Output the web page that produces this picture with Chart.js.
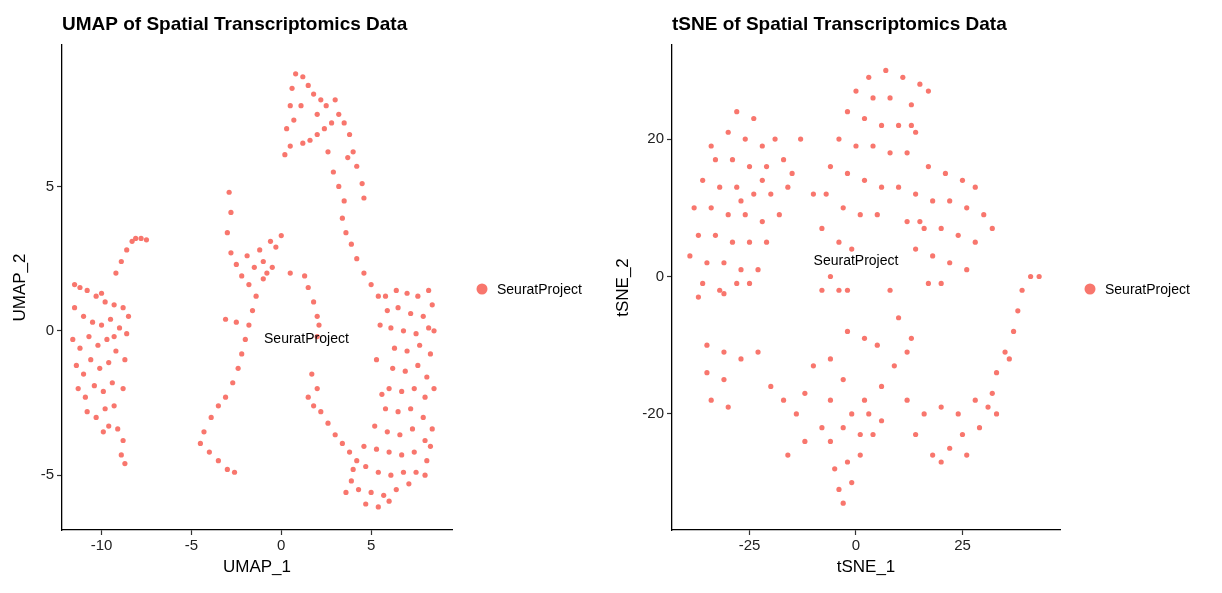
<!DOCTYPE html>
<html>
<head>
<meta charset="utf-8">
<script src="https://cdn.jsdelivr.net/npm/chart.js@4"></script>
<style>
  body { margin: 0; background: #fff; }
  .wrap { position: absolute; top: 0; width: 611px; height: 593px; }
</style>
</head>
<body>
<div class="wrap" style="left:0"><canvas id="umap"></canvas></div>
<div class="wrap" style="left:611px"><canvas id="tsne"></canvas></div>
<script>
const groupName = "SeuratProject";
const pointColor = "#F8766D";

const umapPoints = [
  [-11.2,1.5],[-10.8,1.4],[-10.3,1.2],[-9.8,1.0],[-9.3,0.9],[-8.8,0.8],[-8.5,0.5],[-11.5,0.8],[-11.0,0.5],[-10.5,0.3],[-10,0.2],[-9.5,0.4],[-9,0.1],[-8.6,-0.1],[-11.6,-0.3],[-11.2,-0.6],[-10.7,-0.2],[-10.2,-0.5],[-9.7,-0.3],[-9.2,-0.7],[-11.4,-1.2],[-11,-1.5],[-10.6,-1.0],[-10.1,-1.3],[-9.6,-1.1],[-11.3,-2.0],[-10.9,-2.3],[-10.4,-1.9],[-9.9,-2.1],[-9.4,-1.8],[-10.8,-2.8],[-10.3,-3.0],[-9.8,-2.7],[-9.3,-2.6],[-9.6,-3.3],[-9.1,-3.4],[-8.8,-3.8],[-8.9,-4.3],[-8.7,-4.6],[-9.9,-3.5],[-8.8,-2.0],[-8.7,-1.0],[-9.3,-0.2],[-11.5,1.6],[-10,1.3],[-9.2,2.0],[-8.9,2.4],[-8.6,2.8],[-8.3,3.1],[-7.8,3.2],[-7.5,3.15],[-8.1,3.2],
  [-2.6,-4.9],[-3.0,-4.8],[-3.5,-4.5],[-4.0,-4.2],[-4.5,-3.9],[-4.3,-3.5],[-3.9,-3.0],[-3.5,-2.6],[-3.1,-2.3],[-2.7,-1.8],[-2.4,-1.3],[-2.2,-0.8],[-2.0,-0.3],[-1.8,0.2],[-2.5,0.3],[-3.1,0.4],[-1.6,0.7],[-1.4,1.2],[-1.8,1.6],[-2.2,1.9],[-1.5,2.2],[-1.0,2.4],[-0.5,2.2],[-1.9,2.6],[-1.2,2.8],[-0.8,2.0],[-0.3,2.9],[0,3.3],[-0.6,3.1],[-2.5,2.3],[-2.8,2.7],[-3.0,3.4],[-2.8,4.1],[-2.9,4.8],[0.5,2.0],[-1.0,1.8],
  [1.5,1.5],[1.8,1.0],[2.0,0.5],[2.1,0.2],[2.0,-0.2],[1.3,1.9],
  [1.5,-2.3],[1.8,-2.6],[2.0,-2.0],[1.7,-1.5],[2.2,-2.8],[2.6,-3.2],[3.0,-3.6],[3.4,-3.9],[3.8,-4.2],[4.2,-4.5],
  [0.8,8.9],[1.2,8.8],[0.6,8.4],[0.5,7.8],[0.7,7.3],[0.3,7.0],[0.5,6.4],[0.2,6.1],[1.5,8.5],[1.8,8.2],[2.2,8.0],[2.5,7.8],[3.0,8.0],[3.2,7.5],[2.8,7.2],[2.4,7.0],[2.0,6.8],[1.6,6.6],[1.2,6.5],[3.5,7.2],[3.8,6.8],[4.0,6.2],[4.2,5.7],[4.5,5.1],[4.6,4.6],[3.7,6.0],[2.6,6.2],[2.9,5.5],[3.2,5.0],[3.5,4.5],[3.4,3.9],[3.6,3.4],[3.9,3.0],[4.2,2.5],[4.6,2.0],[5.0,1.6],[5.4,1.2],[1.1,7.8],[2.0,7.5],
  [5.8,1.2],[6.4,1.4],[7.0,1.3],[7.6,1.2],[8.2,1.4],[8.4,0.9],[5.9,0.7],[6.5,0.8],[7.2,0.6],[7.9,0.5],[6.1,0.1],[6.8,0.0],[7.5,-0.1],[8.2,0.1],[6.3,-0.6],[7.0,-0.7],[7.7,-0.5],[8.3,-0.8],[6.2,-1.3],[6.9,-1.4],[7.6,-1.2],[8.1,-1.6],[6.0,-2.0],[6.7,-2.1],[7.4,-2.0],[8.0,-2.3],[5.8,-2.7],[6.5,-2.8],[7.2,-2.7],[7.9,-3.0],[8.4,-3.4],[5.2,-3.3],[5.9,-3.5],[6.6,-3.6],[7.3,-3.4],[8.0,-3.8],[4.6,-4.0],[5.3,-4.1],[6.0,-4.2],[6.7,-4.3],[7.4,-4.2],[8.1,-4.5],[8.3,-4.0],[4.0,-4.8],[4.7,-4.7],[5.4,-4.9],[6.1,-5.0],[6.8,-4.9],[7.5,-4.9],[8.0,-5.0],[3.6,-5.6],[4.3,-5.5],[5.0,-5.6],[5.7,-5.7],[6.4,-5.5],[7.1,-5.3],[4.7,-6.0],[5.4,-6.1],[6.0,-5.9],[3.9,-5.2],[8.5,-2.0],[8.5,0.0],[5.5,0.2],[5.3,-1.0],[5.6,-2.2]
];

const tsnePoints = [
  [-28,24],[-24,23],[-30,21],[-26,20],[-22,19],[-33,17],[-29,17],[-25,16],[-21,16],[-17,17],[-36,14],[-32,13],[-28,13],[-24,12],[-20,12],[-16,13],[-38,10],[-34,10],[-30,9],[-26,9],[-22,8],[-18,9],[-37,6],[-33,6],[-29,5],[-25,5],[-21,5],[-39,3],[-35,2],[-31,2],[-27,1],[-23,1],[-36,-1],[-32,-2],[-28,-1],[-37,-3],[-13,20],[-15,15],[-19,20],[-34,19],[-27,11],[-22,14],[-31,-2.5],[-25,-1],
  [3,29],[7,30],[11,29],[15,28],[0,27],[4,26],[8,26],[13,25],[-2,24],[2,23],[6,22],[10,22],[14,21],[-4,20],[0,19],[4,19],[8,18],[12,18],[17,16],[21,15],[25,14],[28,13],[-6,16],[-2,15],[2,14],[6,13],[10,13],[14,12],[18,11],[22,11],[26,10],[30,9],[32,7],[-7,12],[-3,10],[1,9],[5,9],[12,8],[16,7],[20,7],[24,6],[28,5],[-8,7],[-4,5],[-1,4],[14,4],[18,3],[22,2],[26,1],[20,-1],[17,-1],[-6,0],[-4,-2],[-8,-2],[17,27],[13,22],[-10,12],[15,8],
  [-35,-10],[-31,-11],[-27,-12],[-23,-11],[-35,-14],[-31,-15],[-34,-18],[-30,-19],[-20,-16],[-17,-18],[-14,-20],[-12,-17],[-16,-26],[-12,-24],[-8,-22],[-10,-13],[-6,-12],[-2,-8],[2,-9],[-6,-18],[-3,-15],[-1,-20],[2,-18],[6,-16],[9,-13],[12,-11],[5,-10],[10,-6],[8,-2],[-2,-2],[13,-9],
  [-6,-24],[-3,-22],[1,-23],[4,-23],[-5,-28],[-2,-27],[1,-26],[-4,-31],[-1,-30],[-3,-33],[3,-20],[6,-21],
  [12,-18],[16,-20],[20,-19],[24,-20],[28,-18],[32,-17],[18,-26],[22,-25],[25,-23],[29,-22],[33,-20],[14,-23],[33,-14],[35,-11],[37,-8],[38,-5],[39,-2],[41,0],[43,0],[36,-12],[31,-19],[26,-26],[20,-27]
];

const umapTicksX = [-10, -5, 0, 5];
const umapTicksY = [-5, 0, 5];
const tsneTicksX = [-25, 0, 25];
const tsneTicksY = [-20, 0, 20];

// label positions
const umapLabelAt = [1.4, -0.3];
const tsneLabelAt = [0, 2.3];

const overlay = {
  id: "overlay",
  afterDraw(chart, args, opts) {
    const ctx = chart.ctx, a = chart.chartArea;
    ctx.save();
    ctx.fillStyle = "#000";
    ctx.font = "bold 19px 'Liberation Sans', Arial, sans-serif";
    ctx.textBaseline = "middle";
    ctx.fillText(opts.title, a.left, 25);
    ctx.font = "14px 'Liberation Sans', Arial, sans-serif";
    ctx.textAlign = "center";
    ctx.fillText(groupName, chart.scales.x.getPixelForValue(opts.label[0]), chart.scales.y.getPixelForValue(opts.label[1]));
    ctx.textAlign = "left";
    ctx.beginPath();
    ctx.fillStyle = pointColor;
    ctx.arc(a.right + 30, 289, 5.5, 0, Math.PI * 2);
    ctx.fill();
    ctx.fillStyle = "#000";
    ctx.fillText(groupName, a.right + 45, 290);
    ctx.restore();
  }
};

function makeChart(id, points, title, xTitle, yTitle, xr, yr, xt, yt, pad, yWidth, label) {
  const tickFont = { family: "'Liberation Sans', Arial, sans-serif", size: 15 };
  const titleFont = { family: "'Liberation Sans', Arial, sans-serif", size: 17 };
  const grid = { display: true, drawOnChartArea: false, drawTicks: true, tickLength: 5, tickColor: "#333", tickWidth: 1.2 };
  return new Chart(document.getElementById(id), {
    type: "scatter",
    data: { datasets: [{
      data: points.map(p => ({ x: p[0], y: p[1] })),
      backgroundColor: pointColor, borderWidth: 0, pointRadius: 2.6
    }] },
    options: {
      responsive: true, maintainAspectRatio: false, animation: false,
      layout: { padding: pad },
      plugins: { legend: { display: false }, tooltip: { enabled: false }, overlay: { title, label } },
      scales: {
        x: {
          min: xr[0], max: xr[1],
          afterBuildTicks: s => { s.ticks = xt.map(v => ({ value: v })); },
          afterFit: s => { s.height = 48; },
          grid,
          border: { color: "#000", width: 1.3 },
          ticks: { color: "#222", font: tickFont, padding: 2 },
          title: { display: true, text: xTitle, color: "#000", font: titleFont, padding: 0 }
        },
        y: {
          min: yr[0], max: yr[1],
          afterBuildTicks: s => { s.ticks = yt.map(v => ({ value: v })); },
          afterFit: s => { s.width = yWidth; },
          grid,
          border: { color: "#000", width: 1.3 },
          ticks: { color: "#222", font: tickFont, padding: 3 },
          title: { display: true, text: yTitle, color: "#000", font: titleFont, padding: 0 }
        }
      }
    },
    plugins: [overlay]
  });
}

makeChart("umap", umapPoints, "UMAP of Spatial Transcriptomics Data", "UMAP_1", "UMAP_2",
  [-12.2, 9.5], [-6.9, 9.9], umapTicksX, umapTicksY, { left: 10, right: 159, top: 45, bottom: 15 }, 52, umapLabelAt);
makeChart("tsne", tsnePoints, "tSNE of Spatial Transcriptomics Data", "tSNE_1", "tSNE_2",
  [-43.2, 47.9], [-36.9, 33.7], tsneTicksX, tsneTicksY, { left: 2, right: 162, top: 45, bottom: 15 }, 59, tsneLabelAt);
</script>
</body>
</html>
